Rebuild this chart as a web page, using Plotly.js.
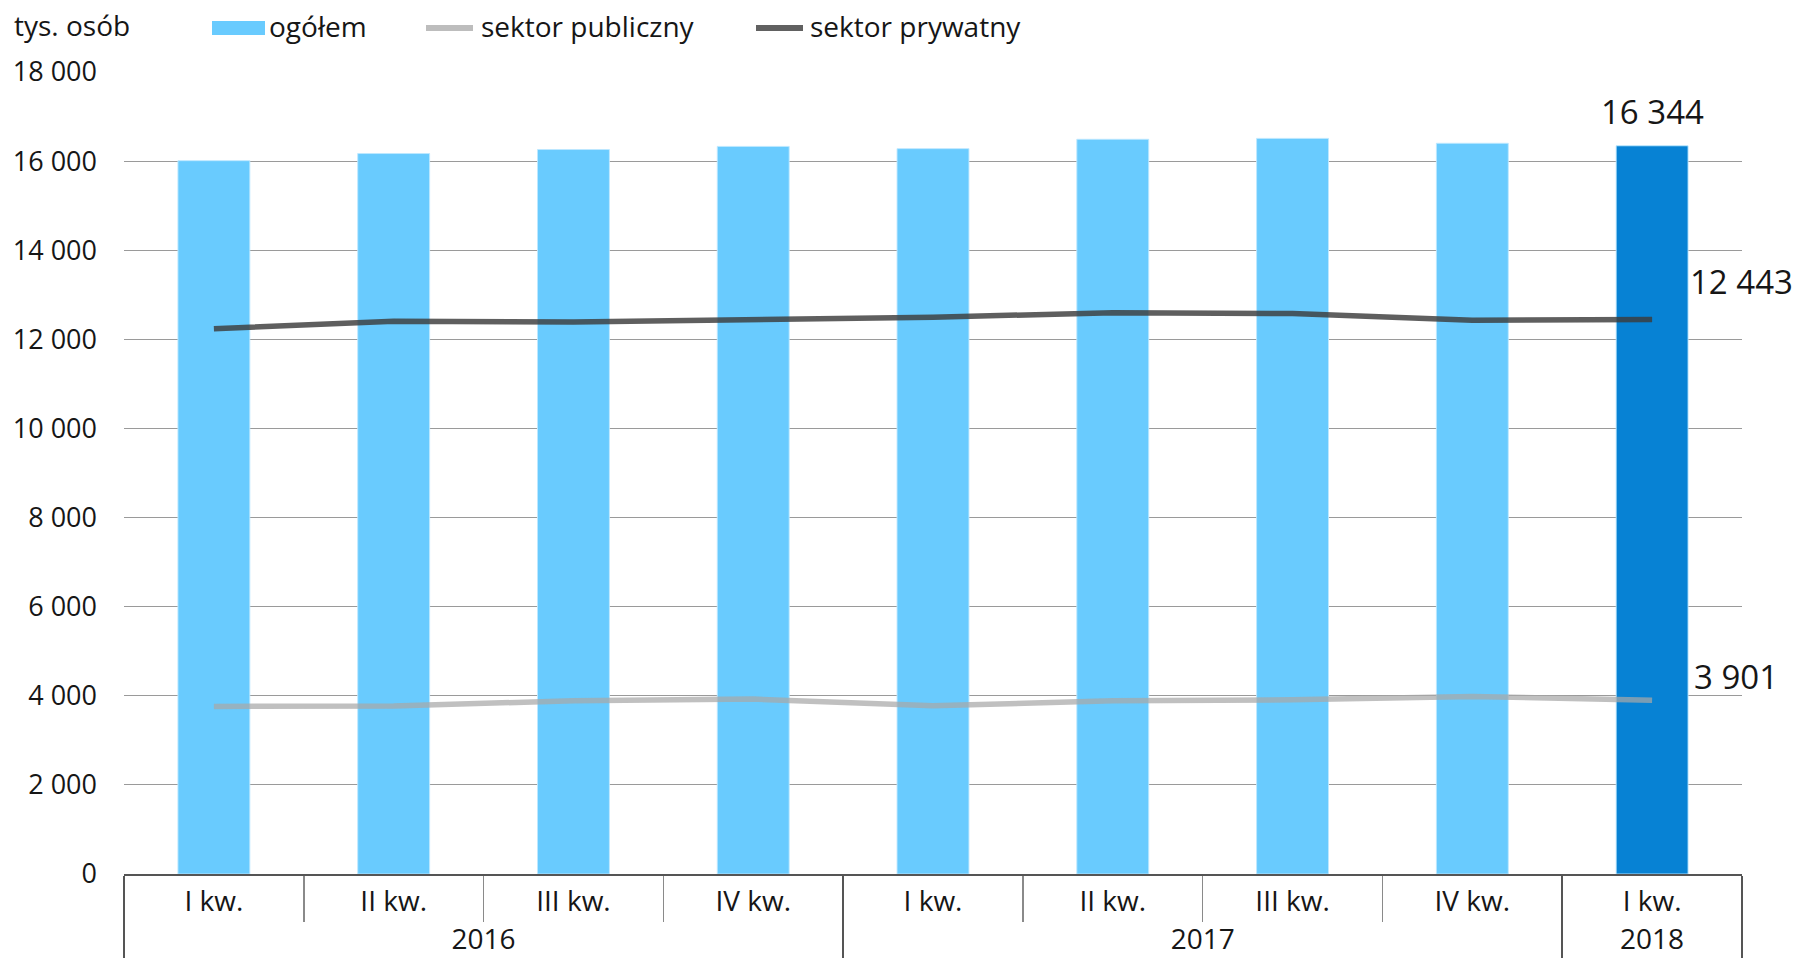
<!DOCTYPE html>
<html>
<head>
<meta charset="utf-8">
<script src="https://cdn.plot.ly/plotly-3.0.1.min.js"></script>
<style>
  html, body { margin: 0; padding: 0; background: #ffffff; }
  #chart { width: 1794px; height: 965px; }
</style>
</head>
<body>
<div id="chart"></div>
<script>
// ---- data ----
const years = ['2016', '2016', '2016', '2016', '2017', '2017', '2017', '2017', '2018'];
const quarters = ['I kw.', 'II kw.', 'III kw.', 'IV kw.', 'I kw.', 'II kw.', 'III kw.', 'IV kw.', 'I kw.'];
const ogolem = [16010, 16170, 16260, 16330, 16280, 16490, 16510, 16400, 16344];
const publiczny = [3761, 3768, 3890, 3925, 3776, 3888, 3910, 3985, 3901];
const prywatny = [12240, 12404, 12390, 12427, 12494, 12599, 12577, 12430, 12443];
const yTickVals = [0, 2000, 4000, 6000, 8000, 10000, 12000, 14000, 16000, 18000];
const unitLabel = 'tys. osób';
const seriesNames = ['ogółem', 'sektor publiczny', 'sektor prywatny'];

// ---- style ----
const FONT = '"Open Sans", "Noto Sans", "DejaVu Sans", sans-serif';
const TXT = '#161616';
const COL_BAR = '#69cbfe';
const COL_BAR_LAST = '#0782d4';
const COL_PUB = 'rgba(168,168,168,0.72)';
const COL_PRY = 'rgba(60,60,60,0.82)';
const COL_PUB_LEG = '#bdbdbd';
const COL_PRY_LEG = '#616161';

// ---- helpers ----
const fmt = v => String(Math.round(v)).replace(/\B(?=(\d{3})+(?!\d))/g, ' ');
const last = ogolem.length - 1;

// plot area geometry (px) -> paper coordinates for the hand-made legend
const W = 1794, H = 965;
const M = { l: 124, r: 52, t: 72, b: 91 };
const PW = W - M.l - M.r, PH = H - M.t - M.b;
const px = x => (x - M.l) / PW;
const py = y => 1 + (M.t - y) / PH;

const barColors = ogolem.map((v, i) => i === last ? COL_BAR_LAST : COL_BAR);

const traces = [
  {
    type: 'bar',
    name: seriesNames[0],
    x: [years, quarters],
    y: ogolem,
    marker: { color: barColors, line: { color: 'rgba(190,232,255,0.9)', width: 1 } },
    hoverinfo: 'skip'
  },
  {
    type: 'scatter',
    mode: 'lines',
    name: seriesNames[1],
    x: [years, quarters],
    y: publiczny,
    line: { color: COL_PUB, width: 5.5 },
    hoverinfo: 'skip'
  },
  {
    type: 'scatter',
    mode: 'lines',
    name: seriesNames[2],
    x: [years, quarters],
    y: prywatny,
    line: { color: COL_PRY, width: 5.5 },
    hoverinfo: 'skip'
  }
];

// legend (drawn as layout shapes + annotations, positions in paper coords)
const legendY = 28;
const legendItems = [
  { name: seriesNames[0], kind: 'rect', color: COL_BAR, x0: 212, x1: 265, tx: 267 },
  { name: seriesNames[1], kind: 'line', color: COL_PUB_LEG, x0: 423, x1: 476, tx: 479 },
  { name: seriesNames[2], kind: 'line', color: COL_PRY_LEG, x0: 753, x1: 806, tx: 808 }
];

const shapes = legendItems.map(it => it.kind === 'rect'
  ? { type: 'rect', xref: 'paper', yref: 'paper', x0: px(it.x0), x1: px(it.x1), y0: py(legendY + 7), y1: py(legendY - 7),
      fillcolor: it.color, line: { width: 0 } }
  : { type: 'line', xref: 'paper', yref: 'paper', x0: px(it.x0 + 3), x1: px(it.x1 - 3), y0: py(legendY), y1: py(legendY),
      line: { color: it.color, width: 6, cap: 'round' } });

const annotations = legendItems.map(it => ({
  text: it.name, xref: 'paper', yref: 'paper', x: px(it.tx), y: py(legendY - 2),
  xanchor: 'left', yanchor: 'middle', showarrow: false,
  font: { family: FONT, size: 28, color: TXT }
}));

annotations.push(
  {
    text: unitLabel,
    xref: 'paper', yref: 'paper',
    x: px(12), y: py(legendY - 3),
    xanchor: 'left', yanchor: 'middle',
    showarrow: false,
    font: { family: FONT, size: 28, color: TXT }
  },
  {
    text: fmt(ogolem[last]),
    xref: 'x', yref: 'y',
    x: last, y: ogolem[last],
    xanchor: 'center', yanchor: 'middle',
    yshift: 34,
    showarrow: false,
    font: { family: FONT, size: 33, color: TXT }
  },
  {
    text: fmt(prywatny[last]),
    xref: 'x', yref: 'y',
    x: last, y: prywatny[last],
    xanchor: 'left', yanchor: 'middle',
    xshift: 36, yshift: 38,
    showarrow: false,
    font: { family: FONT, size: 33, color: TXT }
  },
  {
    text: fmt(publiczny[last]),
    xref: 'x', yref: 'y',
    x: last, y: publiczny[last],
    xanchor: 'left', yanchor: 'middle',
    xshift: 40, yshift: 24,
    showarrow: false,
    font: { family: FONT, size: 33, color: TXT }
  }
);

const layout = {
  width: W,
  height: H,
  margin: { l: M.l, r: M.r, t: M.t, b: M.b, pad: 0 },
  paper_bgcolor: '#ffffff',
  plot_bgcolor: '#ffffff',
  font: { family: FONT, size: 26, color: TXT },
  separators: ', ',
  bargap: 0.6,
  showlegend: false,
  xaxis: {
    type: 'multicategory',
    range: [-0.5, last + 0.5],
    autorange: false,
    showgrid: false,
    showline: true,
    linecolor: '#555555',
    linewidth: 1.5,
    ticks: 'outside',
    tickson: 'boundaries',
    ticklen: 46,
    tickcolor: '#8a8a8a',
    tickwidth: 1.5,
    showdividers: true,
    dividercolor: '#555555',
    dividerwidth: 1.5,
    ticklabelstandoff: 2,
    tickfont: { family: FONT, size: 28, color: TXT },
    zeroline: false
  },
  yaxis: {
    range: [0, 18000],
    autorange: false,
    tickvals: yTickVals,
    tickformat: ',d',
    showgrid: true,
    gridcolor: '#9a9a9a',
    gridwidth: 1.2,
    zeroline: false,
    showline: false,
    ticks: '',
    ticklabelstandoff: 26,
    tickfont: { family: FONT, size: 27, color: TXT }
  },
  shapes: shapes,
  annotations: annotations
};

Plotly.newPlot('chart', traces, layout, { displayModeBar: false, staticPlot: true });
</script>
</body>
</html>
